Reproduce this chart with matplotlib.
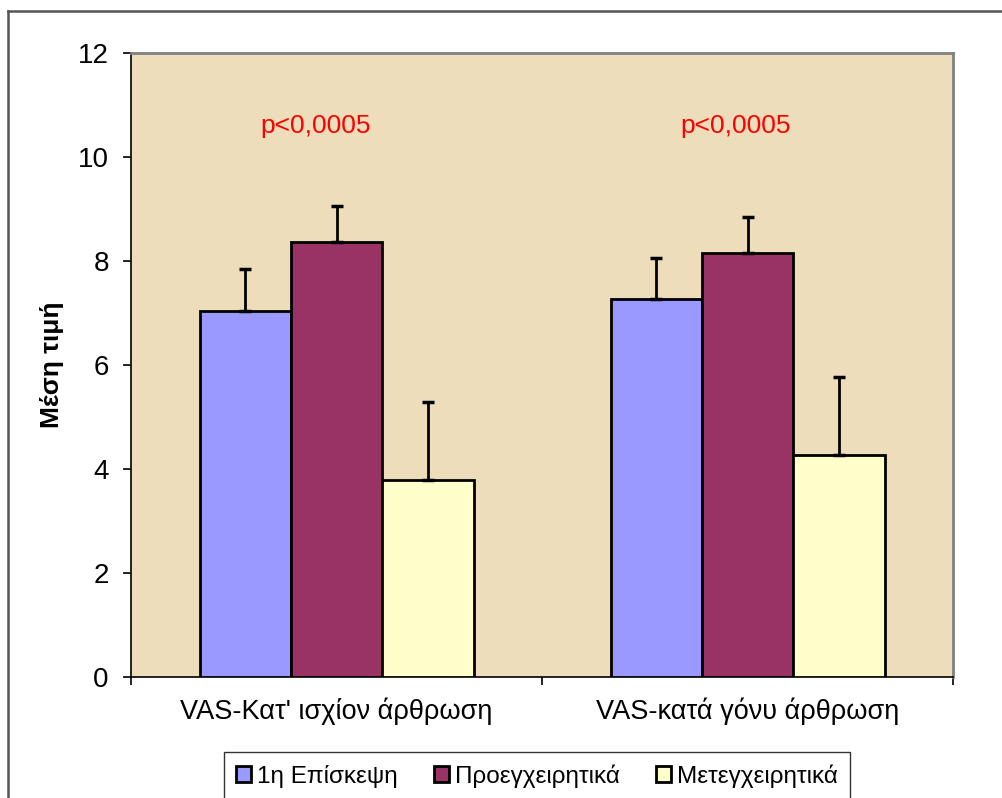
import matplotlib.pyplot as plt
import numpy as np
from matplotlib.lines import Line2D

plt.rcParams['font.family'] = ['Liberation Sans', 'DejaVu Sans']

# Δεδομένα
categories = ["VAS-Κατ' ισχίον άρθρωση", "VAS-κατά γόνυ άρθρωση"]
series = ["1η Επίσκεψη", "Προεγχειρητικά", "Μετεγχειρητικά"]
means = [[7.04, 7.26],   # 1η Επίσκεψη
         [8.36, 8.15],   # Προεγχειρητικά
         [3.79, 4.27]]   # Μετεγχειρητικά
errs = [[0.80, 0.79],
        [0.69, 0.69],
        [1.50, 1.50]]
p_labels = ["p<0,0005", "p<0,0005"]

colors = ['#9999FF', '#993366', '#FFFFCC']

fig = plt.figure(figsize=(10.02, 7.98), dpi=100)
ax = fig.add_axes([131 / 1002, 1 - 677 / 798, 822 / 1002, 624 / 798])
ax.set_facecolor('#EEDDBA')

x = np.arange(len(categories))
w = 2 / 9
for i, (s, m, e, c) in enumerate(zip(series, means, errs, colors)):
    pos = x + (i - 1) * w
    ax.bar(pos, m, width=w, color=c, edgecolor='black', linewidth=2,
           label=s, zorder=3)
    ax.errorbar(pos, m, yerr=[np.zeros(len(e)), e], fmt='none',
                ecolor='black', elinewidth=2, capsize=4, capthick=2.5, zorder=4)

# p-τιμές
for xi, txt, dx in zip(x, p_labels, [-0.05, -0.03]):
    ax.text(xi + dx, 10.6, txt, color='red', fontsize=19,
            ha='center', va='center')

ax.set_ylim(0, 12)
ax.set_xlim(-0.5, len(categories) - 0.5)
ax.set_yticks(range(0, 13, 2))
ax.set_xticks(x)
ax.set_xticklabels(categories, fontsize=19.5)
ax.set_xticks([-0.5, 0.5, 1.5], minor=True)
ax.tick_params(axis='x', which='major', length=0, pad=15)
ax.tick_params(axis='x', which='minor', length=6, width=1.2, direction='out')
ax.tick_params(axis='y', length=6, width=1.2, direction='out', labelsize=20, pad=10)
ax.set_ylabel("Μέση τιμή", fontsize=19, fontweight='bold', labelpad=10)

for side in ['top', 'right']:
    ax.spines[side].set_color('#808080')
    ax.spines[side].set_linewidth(2)
for side in ['left', 'bottom']:
    ax.spines[side].set_color('black')
    ax.spines[side].set_linewidth(1.2)

# Υπόμνημα
leg = fig.legend(loc='upper center', bbox_to_anchor=(537 / 1002, 1 - 752 / 798),
                 ncol=3, fontsize=17.5, frameon=True, fancybox=False,
                 edgecolor='black', handlelength=0.6, handleheight=0.6,
                 handletextpad=0.25, columnspacing=1.5, borderpad=0.5,
                 borderaxespad=0)
leg.get_frame().set_linewidth(1)

# Πλαίσιο γραφήματος
fig.add_artist(Line2D([8 / 1002, 8 / 1002], [-0.01, 1 - 11 / 798],
                      transform=fig.transFigure, color='#555555', linewidth=1.8))
fig.add_artist(Line2D([8 / 1002, 1.01], [1 - 11 / 798, 1 - 11 / 798],
                      transform=fig.transFigure, color='#555555', linewidth=1.8))

fig.savefig('out.png', dpi=100)
